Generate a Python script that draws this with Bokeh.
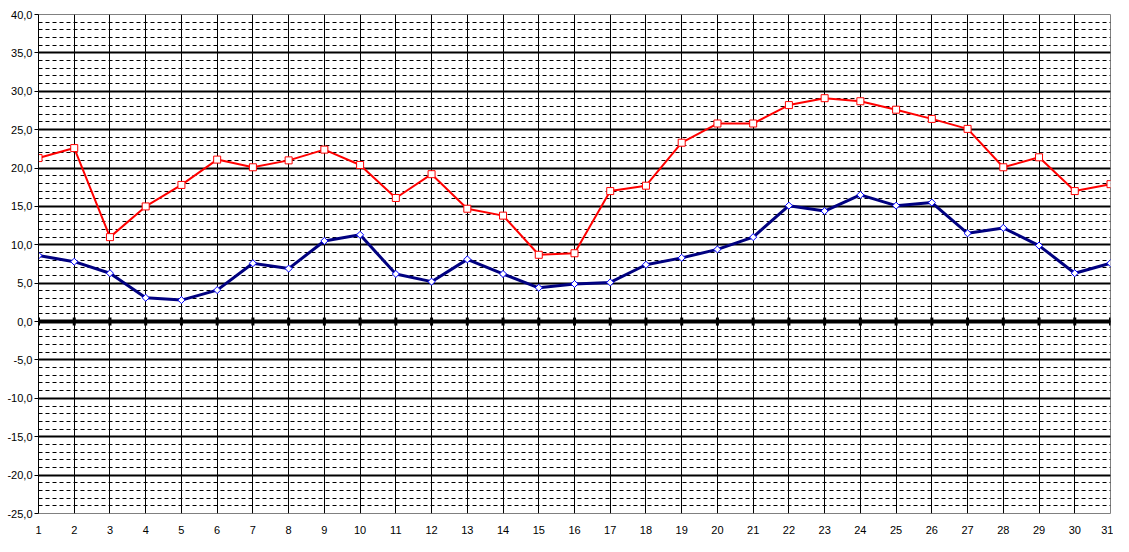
from bokeh.plotting import figure
from bokeh.models import FixedTicker, Span, Range1d
from bokeh.embed import file_html
from bokeh.resources import INLINE
import numpy as np

days = list(range(1, 32))
tmax = [21.3, 22.6, 11.0, 15.0, 17.8, 21.1, 20.1, 21.0, 22.4, 20.4, 16.1, 19.2, 14.7, 13.8,
        8.7, 8.9, 17.0, 17.7, 23.3, 25.8, 25.8, 28.2, 29.1, 28.7, 27.6, 26.4, 25.1, 20.1,
        21.4, 17.0, 17.9]
tmin = [8.6, 7.8, 6.3, 3.1, 2.8, 4.1, 7.6, 6.9, 10.5, 11.3, 6.2, 5.2, 8.1, 6.2,
        4.4, 4.9, 5.1, 7.4, 8.3, 9.4, 11.0, 15.1, 14.4, 16.5, 15.1, 15.5, 11.5, 12.2,
        9.9, 6.3, 7.6]
y_ticks = list(range(-25, 41, 5))
y_minor = list(range(-25, 41, 1))
y_labels = {t: f"{t:.1f}".replace(".", ",") for t in y_ticks}
x_labels = {d: str(d) for d in days}

FONT = "Liberation Sans"
W, H = 1113, 536

p = figure(width=W, height=H, output_backend="svg", toolbar_location=None,
           x_range=Range1d(1, 31), y_range=Range1d(-25, 40),
           min_border_left=38, min_border_right=3, min_border_top=14, min_border_bottom=20,
           background_fill_color="white", border_fill_color="white",
           outline_line_color="#808080", outline_line_width=1)

# grids
p.xgrid.ticker = FixedTicker(ticks=days[1:-1])
p.xgrid.grid_line_color = "black"
p.xgrid.grid_line_width = 1
p.ygrid.ticker = FixedTicker(ticks=y_ticks, minor_ticks=y_minor)
p.ygrid.grid_line_color = "black"
p.ygrid.grid_line_width = 2
p.ygrid.minor_grid_line_color = "black"
p.ygrid.minor_grid_line_width = 1
p.ygrid.minor_grid_line_dash = "4 3"

# axes
p.yaxis.ticker = FixedTicker(ticks=y_ticks)
p.yaxis.major_label_overrides = y_labels
p.yaxis.major_label_text_font = FONT
p.yaxis.major_label_text_font_size = "11px"
p.yaxis.major_label_text_color = "black"
p.yaxis.axis_line_color = "black"
p.yaxis.axis_line_width = 1
p.yaxis.major_tick_out = 4
p.yaxis.major_tick_in = 0
p.yaxis.major_tick_line_color = "black"
p.yaxis.minor_tick_line_color = None
p.yaxis.major_label_standoff = 2

p.xaxis.ticker = FixedTicker(ticks=days)
p.xaxis.major_label_overrides = x_labels
p.xaxis.major_label_text_font = FONT
p.xaxis.major_label_text_font_size = "11px"
p.xaxis.major_label_text_color = "black"
p.xaxis.axis_line_color = None
p.xaxis.major_tick_line_color = None
p.xaxis.minor_tick_line_color = None
p.xaxis.major_label_standoff = 6

# zero axis line with tick marks
p.add_layout(Span(location=0, dimension="width", line_color="black", line_width=4))
p.rect(x=days, y=[0] * len(days), width=3, height=8, width_units="screen",
       height_units="screen", fill_color="black", line_color=None)

# series
p.line(days, tmax, line_color="#FF0000", line_width=2)
p.scatter(days, tmax, marker="square", size=7, fill_color="white",
          line_color="#FF0000", line_width=1)
p.line(days, tmin, line_color="#000080", line_width=3)
p.scatter(days, tmin, marker="square", angle=np.pi / 4, size=5, fill_color="white",
          line_color="#0000FF", line_width=1)

open("out.html", "w").write(file_html(p, INLINE))
